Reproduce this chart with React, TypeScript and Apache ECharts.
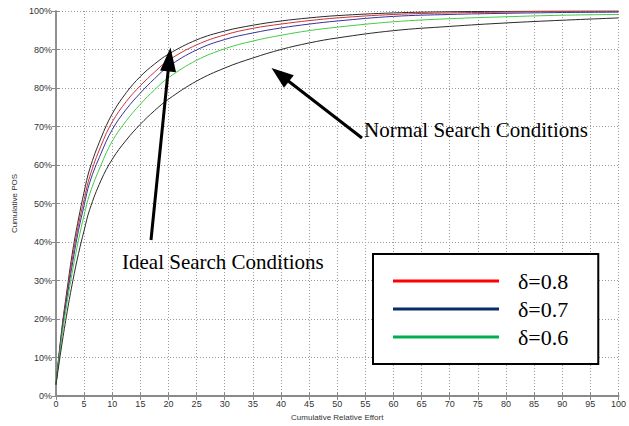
import React, { useEffect, useRef } from "react";
import * as echarts from "echarts";

// Cumulative relative effort (x)
const effort = [0, 1, 2, 3, 4, 5, 6, 8, 10, 12.5, 15, 17.5, 20, 25, 30, 35, 40, 45, 50, 60, 70, 80, 90, 100];
// Cumulative POS (%) for each curve
const idealPOS = [3, 17, 28, 38, 46, 53, 59, 67, 73.3, 78.8, 83, 86.2, 88.8, 92.5, 94.8, 96.3, 97.4, 98.2, 98.8, 99.5, 99.8, 99.9, 100, 100];
const delta08 = [3, 16.5, 27, 36.5, 44.5, 51, 57, 65, 71.2, 76.5, 80.6, 84.1, 87.2, 91.2, 93.8, 95.5, 96.6, 97.5, 98.2, 99.1, 99.5, 99.7, 99.9, 100];
const delta07 = [3, 16, 26, 35, 43, 49.5, 55.5, 63, 69.2, 74.5, 78.7, 82.4, 85.6, 89.9, 92.6, 94.3, 95.6, 96.6, 97.4, 98.6, 99.1, 99.4, 99.6, 99.7];
const delta06 = [3, 15, 24.5, 33, 40.5, 47, 52.5, 60, 66.2, 71.5, 75.8, 79.5, 82.7, 87.2, 90.2, 92.2, 93.7, 94.9, 95.8, 97.2, 98, 98.5, 98.9, 99.1];
const normalPOS = [3, 13, 22, 30, 37, 43, 48.5, 56, 61.5, 66.5, 70.6, 74.1, 77.1, 81.8, 85.2, 87.8, 90, 91.7, 93, 94.9, 96, 96.9, 97.6, 98.2];

const yTickLabels = ["0%", "10%", "20%", "30%", "40%", "50%", "60%", "70%", "80%", "80%", "100%"];
const legendNames = ["δ=0.8", "δ=0.7", "δ=0.6"];

const pairs = (ys: number[]) => effort.map((x, i) => [x, ys[i]]);

export default function App() {
  const ref = useRef<HTMLDivElement>(null);
  useEffect(() => {
    if (!ref.current) return;
    const chart = echarts.init(ref.current, undefined, { renderer: "svg" });
    const frame = "#8a8a8a";
    const labelFont = { fontFamily: "Liberation Sans, Arial, sans-serif", fontSize: 9, color: "#333" };
    const serif = "Liberation Serif, Times New Roman, serif";
    const lineSeries = (name: string, ys: number[], color: string) => ({
      name,
      type: "line",
      data: pairs(ys),
      symbol: "none",
      smooth: 0.4,
      lineStyle: { color, width: 1 },
      itemStyle: { color },
    });

    // arrow geometry (annotation, in pixels)
    const arrows = [
      { tail: [151, 240], tip: [170.5, 47.5], len: 24, half: 8 },
      { tail: [362, 138], tip: [271.5, 68], len: 22, half: 8 },
    ];
    const arrowGraphics: any[] = [];
    arrows.forEach((a) => {
      const dx = a.tip[0] - a.tail[0];
      const dy = a.tip[1] - a.tail[1];
      const L = Math.hypot(dx, dy);
      const ux = dx / L, uy = dy / L;
      const bx = a.tip[0] - ux * a.len, by = a.tip[1] - uy * a.len;
      const px = -uy, py = ux;
      arrowGraphics.push({
        type: "line",
        shape: { x1: a.tail[0], y1: a.tail[1], x2: bx + ux * 2, y2: by + uy * 2 },
        style: { stroke: "#000", lineWidth: 3 },
        z: 100,
      });
      arrowGraphics.push({
        type: "polygon",
        shape: { points: [a.tip, [bx + px * a.half, by + py * a.half], [bx - px * a.half, by - py * a.half]] },
        style: { fill: "#000" },
        z: 100,
      });
    });

    chart.setOption({
      animation: false,
      backgroundColor: "#fff",
      grid: { left: 56, right: 8, top: 11, bottom: 28, containLabel: false },
      xAxis: [
        {
          type: "value",
          min: 0,
          max: 100,
          interval: 5,
          name: "Cumulative Relative Effort",
          nameLocation: "middle",
          nameGap: 14,
          nameTextStyle: { ...labelFont, fontSize: 8 },
          axisLine: { lineStyle: { color: frame, width: 1.5 } },
          axisTick: { inside: true, length: 4, lineStyle: { color: frame } },
          axisLabel: { ...labelFont, margin: 3 },
          splitLine: { show: true, lineStyle: { color: "#9a9a9a", type: [1, 2], width: 1 } },
        },
        {
          type: "value",
          position: "top",
          min: 0,
          max: 100,
          interval: 5,
          axisLine: { show: true, lineStyle: { color: frame, width: 2 } },
          axisTick: { inside: true, length: 4, lineStyle: { color: frame } },
          axisLabel: { show: false },
          splitLine: { show: false },
        },
      ],
      yAxis: [
        {
          type: "value",
          min: 0,
          max: 100,
          interval: 10,
          name: "Cumulative POS",
          nameLocation: "middle",
          nameGap: 29,
          nameTextStyle: { ...labelFont, fontSize: 8 },
          axisLine: { show: true, lineStyle: { color: frame, width: 1.5 } },
          axisTick: { show: true, inside: true, length: 4, lineStyle: { color: frame } },
          axisLabel: { ...labelFont, margin: 4, formatter: (v: number) => yTickLabels[Math.round(v / 10)] ?? "" },
          splitLine: { show: true, lineStyle: { color: "#9a9a9a", type: [1, 2], width: 1 } },
        },
        {
          type: "value",
          position: "right",
          min: 0,
          max: 100,
          interval: 10,
          axisLine: { show: true, lineStyle: { color: frame, width: 1.5 } },
          axisTick: { show: true, inside: true, length: 4, lineStyle: { color: frame } },
          axisLabel: { show: false },
          splitLine: { show: false },
        },
      ],
      legend: {
        orient: "vertical",
        left: 373,
        top: 254,
        padding: [16, 30, 16, 20],
        itemGap: 6,
        itemWidth: 106,
        itemHeight: 3,
        icon: "rect",
        backgroundColor: "#fff",
        borderColor: "#000",
        borderWidth: 2,
        borderRadius: 0,
        textStyle: { fontFamily: serif, fontSize: 22, color: "#000", padding: [0, 0, 0, 14] },
        data: [
          { name: legendNames[0], itemStyle: { color: "#ff0000" } },
          { name: legendNames[1], itemStyle: { color: "#0a2a6a" } },
          { name: legendNames[2], itemStyle: { color: "#00b050" } },
        ],
      },
      graphic: [
        ...arrowGraphics,
        {
          type: "text",
          x: 122,
          y: 262,
          style: { text: "Ideal Search Conditions", font: `21px ${serif}`, fill: "#000", verticalAlign: "middle" },
          z: 100,
        },
        {
          type: "text",
          x: 364,
          y: 130,
          style: { text: "Normal Search Conditions", font: `21px ${serif}`, fill: "#000", verticalAlign: "middle" },
          z: 100,
        },
      ],
      series: [
        lineSeries("Ideal", idealPOS, "#2a2a2a"),
        lineSeries(legendNames[0], delta08, "#cc3333"),
        lineSeries(legendNames[1], delta07, "#333399"),
        lineSeries(legendNames[2], delta06, "#44cc44"),
        lineSeries("Normal", normalPOS, "#2a2a2a"),
      ],
    });
    return () => chart.dispose();
  }, []);
  return <div ref={ref} style={{ position: "fixed", left: 0, top: 0, width: 629, height: 426 }} />;
}
